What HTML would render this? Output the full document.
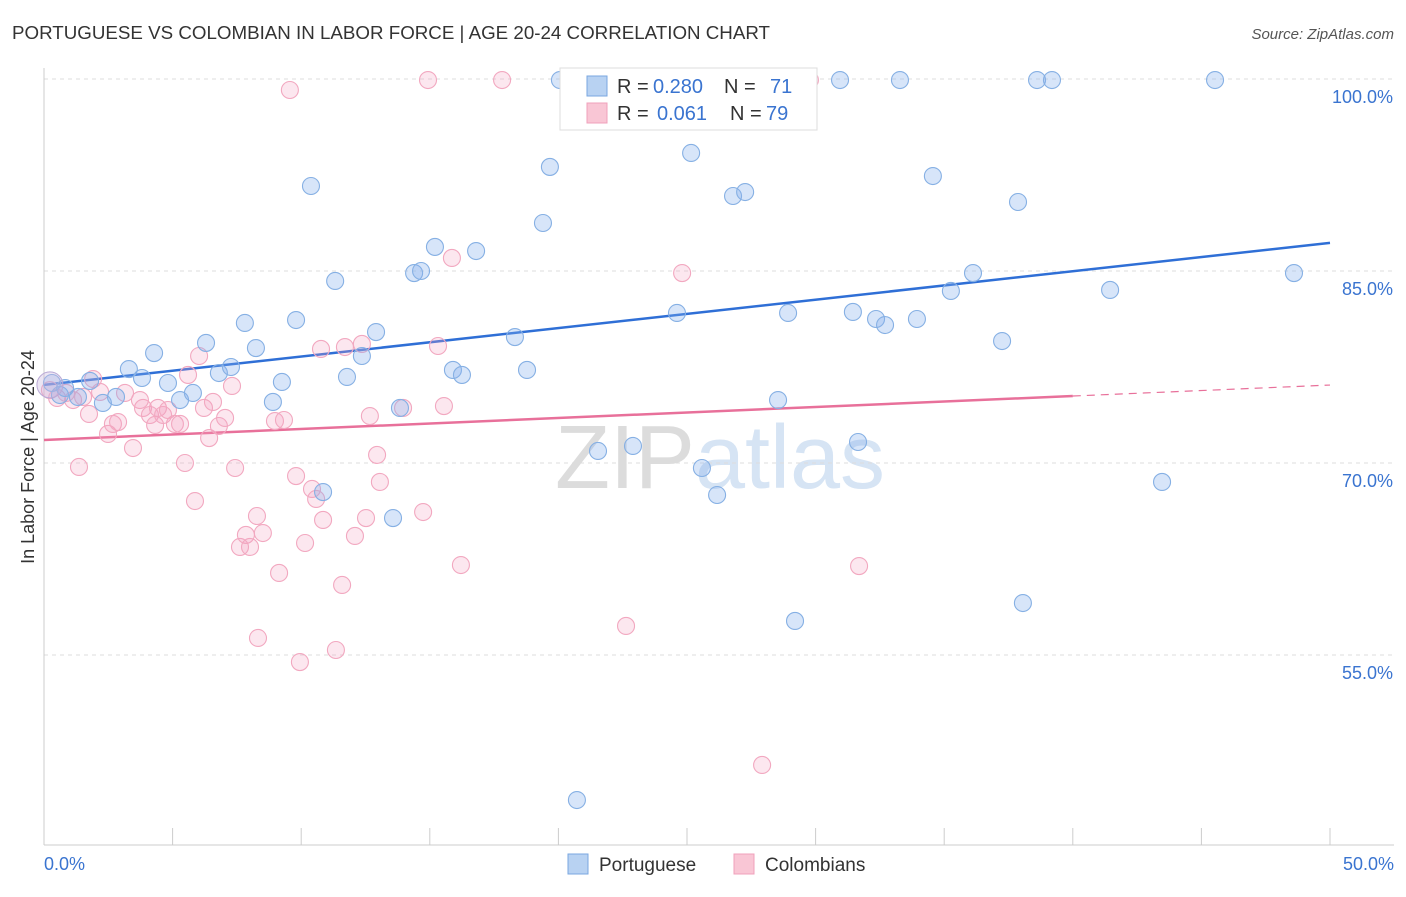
<!DOCTYPE html>
<html><head><meta charset="utf-8">
<style>
body{margin:0;background:#fff;font-family:"Liberation Sans",sans-serif;}
svg text{font-family:"Liberation Sans",sans-serif;}
</style></head>
<body>
<svg id="chart" width="1406" height="892" xmlns="http://www.w3.org/2000/svg">
<text x="12" y="39" font-size="18" fill="#333" textLength="758" lengthAdjust="spacingAndGlyphs">PORTUGUESE VS COLOMBIAN IN LABOR FORCE | AGE 20-24 CORRELATION CHART</text>
<text x="1394" y="39" font-size="15" fill="#555" text-anchor="end" font-style="italic">Source: ZipAtlas.com</text>
<text x="720" y="488" font-size="90" text-anchor="middle" fill="#e4e4e4" font-family="Liberation Serif"><tspan fill="#dcdcdc">ZIP</tspan><tspan fill="#d6e4f4" font-family="Liberation Sans">atlas</tspan></text>
<g id="grid"></g>
<g id="axes"></g>
<g id="lines"></g>
<g id="pts"></g>
<text transform="translate(34,457) rotate(-90)" font-size="18" fill="#333" text-anchor="middle">In Labor Force | Age 20-24</text>
<g>
<rect x="560" y="68" width="257" height="62" fill="#fff" stroke="#ddd"/>
<rect x="587" y="76" width="20" height="20" fill="#b8d2f2" stroke="#7aa7e0"/>
<rect x="587" y="103" width="20" height="20" fill="#f9c6d5" stroke="#f0a0bb"/>
<text x="617" y="93" font-size="20" fill="#333">R =</text>
<text x="653" y="93" font-size="20" fill="#3a74d0">0.280</text>
<text x="724" y="93" font-size="20" fill="#333">N =</text>
<text x="770" y="93" font-size="20" fill="#3a74d0">71</text>
<text x="617" y="120" font-size="20" fill="#333">R =</text>
<text x="657" y="120" font-size="20" fill="#3a74d0">0.061</text>
<text x="730" y="120" font-size="20" fill="#333">N =</text>
<text x="766" y="120" font-size="20" fill="#3a74d0">79</text>
</g>
<g>
<rect x="568" y="854" width="20" height="20" fill="#b8d2f2" stroke="#7aa7e0"/>
<text x="599" y="871" font-size="19" fill="#333">Portuguese</text>
<rect x="734" y="854" width="20" height="20" fill="#f9c6d5" stroke="#f0a0bb"/>
<text x="765" y="871" font-size="19" fill="#333">Colombians</text>
</g>
</svg>
<script>
const yTicks=[100,85,70,55];
const yTickLabels=["100.0%","85.0%","70.0%","55.0%"];
const xTickVals=[0,5,10,15,20,25,30,35,40,45,50];
const blueX=[0.31,0.62,0.82,1.32,1.79,2.29,2.80,3.30,3.81,4.28,4.82,5.29,5.79,6.30,6.80,7.27,7.81,8.24,8.90,9.25,9.80,10.38,10.85,11.32,11.78,12.36,12.91,13.57,13.84,14.39,14.66,15.20,15.90,16.25,16.80,18.31,18.78,19.40,19.67,20.06,20.72,21.54,22.90,24.61,25.16,25.58,26.17,26.79,27.26,28.54,28.93,29.20,30.95,31.45,31.65,32.35,32.70,33.28,33.94,34.56,35.26,36.12,37.25,37.87,38.06,38.61,39.19,41.45,43.47,45.53,48.60];
const blueY=[76.25,75.31,75.86,75.16,76.41,74.69,75.16,77.34,76.64,78.59,76.25,74.92,75.47,79.38,77.03,77.50,80.94,78.98,74.77,76.33,81.17,91.64,67.73,84.22,76.72,78.36,80.23,65.70,74.30,84.84,85.0,86.88,77.27,76.88,86.56,79.84,77.27,88.75,93.13,99.92,43.67,70.94,71.33,81.72,94.22,69.61,67.5,90.86,91.17,74.92,81.72,57.66,99.92,81.80,71.64,81.25,80.78,99.92,81.25,92.42,83.44,84.84,79.53,90.39,59.06,99.92,99.92,83.52,68.52,99.92,84.84];
const pinkX=[0.23,0.51,0.86,1.13,1.36,1.52,1.75,1.91,2.18,2.49,2.68,2.88,3.15,3.46,3.73,3.85,4.12,4.32,4.43,4.63,4.82,5.09,5.29,5.48,5.60,5.87,6.03,6.22,6.42,6.57,6.80,7.04,7.31,7.43,7.62,7.85,8.01,8.28,8.32,8.51,8.98,9.14,9.33,9.56,9.80,9.95,10.15,10.42,10.58,10.77,10.85,11.35,11.59,11.70,12.09,12.36,12.52,12.67,12.95,13.06,13.96,14.74,14.93,15.32,15.55,15.86,16.21,17.81,22.63,24.81,26.75,27.92,29.78,31.69];
const pinkY=[75.70,75.08,75.47,74.92,69.69,75.16,73.83,76.56,75.55,72.27,73.05,73.20,75.47,71.17,74.92,74.30,73.75,72.97,74.30,73.75,74.14,73.05,73.05,70.0,76.88,67.03,78.36,74.30,71.95,74.77,72.89,73.52,76.02,69.61,63.44,64.38,63.44,65.86,56.33,64.53,73.28,61.41,73.36,99.14,68.98,54.45,63.75,67.97,67.19,78.91,65.55,55.39,60.47,79.06,64.30,79.30,65.70,73.67,70.63,68.52,74.30,66.17,99.92,79.14,74.45,86.02,62.03,99.92,57.27,84.84,99.92,46.41,99.92,61.95];
const blueTrend=[76.1,0.222];   // intercept, slope
const pinkTrend=[71.8,0.0858];
const pinkSolidEnd=40;
const NS="http://www.w3.org/2000/svg";
const xs=v=>44+v*25.72, ys=v=>79+(100-v)*12.8;
function mk(tag,attrs,parent){const e=document.createElementNS(NS,tag);for(const k in attrs)e.setAttribute(k,attrs[k]);parent.appendChild(e);return e;}
const grid=document.getElementById('grid'),axes=document.getElementById('axes'),lines=document.getElementById('lines'),pts=document.getElementById('pts');
yTicks.forEach((t,i)=>{
 const l=mk('line',{x1:44,x2:1394,y1:ys(t),y2:ys(t),stroke:'#ddd','stroke-dasharray':'4,4'},grid);
 
 
 const tx=mk('text',{x:1393,y:ys(t)+24,'font-size':18,fill:'#3a74d0','text-anchor':'end'},axes);
 tx.textContent=yTickLabels[i];
 
 
});
const ax=mk('line',{x1:44,x2:44,y1:68,y2:845,stroke:'#ccc'},axes);


const bx=mk('line',{x1:44,x2:1394,y1:845,y2:845,stroke:'#ccc'},axes);


xTickVals.forEach(v=>{
 const t=mk('line',{x1:xs(v),x2:xs(v),y1:828,y2:845,stroke:'#ccc'},axes);
 
 
});
const xl0=mk('text',{x:44,y:870,'font-size':18,fill:'#3a74d0'},axes);xl0.textContent="0.0%";


const xl1=mk('text',{x:1394,y:870,'font-size':18,fill:'#3a74d0','text-anchor':'end'},axes);xl1.textContent="50.0%";


function dots(X,Y,fill,stroke,name){X.forEach((x,i)=>{
 const c=mk('circle',{cx:xs(x),cy:ys(Y[i]),r:8.5,fill:fill,stroke:stroke,'stroke-width':1.1},pts);
 
 
});}
dots(pinkX,pinkY,'rgba(244,160,190,0.25)','#f2a8c0','colombian-point');
dots(blueX,blueY,'rgba(130,175,235,0.32)','#86b0e4','portuguese-point');
const big=mk('circle',{cx:xs(0.23),cy:ys(76.1),r:13,fill:'rgba(200,180,220,0.35)',stroke:'#b9a9d6'},pts);


const tl=(tr,a,b,col,dash,name)=>{const l=mk('line',{x1:xs(a),y1:ys(tr[0]+tr[1]*a),x2:xs(b),y2:ys(tr[0]+tr[1]*b),stroke:col,'stroke-width':dash?1.2:2.5},lines);if(dash)l.setAttribute('stroke-dasharray','8,6');
 
 };
tl(blueTrend,0,50,'#2f6fd6',false,'portuguese-trend-line');
tl(pinkTrend,0,pinkSolidEnd,'#e8709a',false,'colombian-trend-line');
tl(pinkTrend,pinkSolidEnd,50,'#e8709a',true,'colombian-trend-extension');
</script>
</body></html>
